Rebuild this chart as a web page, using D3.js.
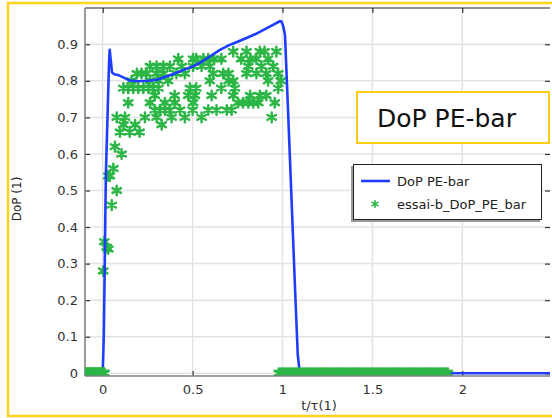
<!DOCTYPE html>
<html>
<head>
<meta charset="utf-8">
<script src="https://cdn.jsdelivr.net/npm/d3@7"></script>
<style>
  body { margin: 0; background: #fff; }
  svg { display: block; }
  text { font-family: "DejaVu Sans", sans-serif; }
</style>
</head>
<body>
<div id="vis"></div>
<script>
const W = 552, H = 418;
const plot = { left: 85, right: 550, top: 8, bottom: 376 };

// simulated curve : DoP PE-bar
const curveT = [-0.1, 0, 0.006, 0.011, 0.015, 0.018, 0.022, 0.03, 0.036, 0.039, 0.044, 0.052, 0.065, 0.09, 0.12, 0.15,
    0.2, 0.25, 0.3, 0.35, 0.4, 0.45, 0.5, 0.55, 0.6, 0.65, 0.7, 0.75, 0.8, 0.85, 0.9, 0.95, 0.985, 0.995,
    1.005, 1.014, 1.03, 1.05, 1.07, 1.085, 1.095, 1.11, 2.5];
const curveDop = [0, 0, 0.1, 0.28, 0.45, 0.55, 0.62, 0.76, 0.86, 0.885, 0.86, 0.823, 0.818, 0.815, 0.808, 0.801,
    0.799, 0.8, 0.803, 0.811, 0.82, 0.83, 0.839, 0.852, 0.868, 0.884, 0.897, 0.907, 0.917, 0.928, 0.941, 0.954, 0.963, 0.962,
    0.948, 0.925, 0.73, 0.48, 0.23, 0.05, 0.006, 0, 0];

// measurements : essai-b_DoP_PE_bar (non-zero part)
const essaiT = [
    0.003, 0.009, 0.022, 0.031, 0.05, 0.078, 0.031, 0.04, 0.059, 0.068, 0.105,
    0.096, 0.15, 0.205,
    0.115, 0.18, 0.328,
    0.078, 0.124, 0.235, 0.30, 0.383, 0.457, 0.55, 0.94,
    0.29, 0.318, 0.346, 0.374, 0.43, 0.50, 0.587, 0.633, 0.69, 0.717,
    0.142, 0.263, 0.346, 0.40, 0.503, 0.753, 0.78, 0.81, 0.837, 0.865, 0.957,
    0.29, 0.40, 0.476, 0.513, 0.606, 0.726, 0.82, 0.874, 0.91,
    0.115, 0.142, 0.17, 0.198, 0.226, 0.254, 0.28, 0.31, 0.485, 0.52, 0.66, 0.735, 0.976,
    0.16, 0.263, 0.31, 0.364, 0.596, 0.70, 0.726, 0.92, 0.99,
    0.19, 0.216, 0.244, 0.30, 0.337, 0.41, 0.457, 0.614, 0.67, 0.70, 0.80, 0.855, 0.91, 0.976,
    0.263, 0.30, 0.337, 0.374, 0.44, 0.503, 0.55, 0.596, 0.81, 0.883, 0.948,
    0.42, 0.503, 0.52, 0.56, 0.587, 0.62, 0.66, 0.77, 0.82, 0.855, 0.92,
    0.726, 0.80, 0.874, 0.90, 0.966
];
const essaiDop = [
    0.28, 0.36, 0.345, 0.34, 0.46, 0.50, 0.54, 0.54, 0.56, 0.62, 0.60,
    0.66, 0.66, 0.66,
    0.68, 0.68, 0.68,
    0.70, 0.70, 0.70, 0.70, 0.70, 0.70, 0.70, 0.70,
    0.72, 0.72, 0.72, 0.72, 0.72, 0.72, 0.72, 0.72, 0.72, 0.72,
    0.74, 0.74, 0.74, 0.74, 0.74, 0.74, 0.74, 0.74, 0.74, 0.74, 0.74,
    0.76, 0.76, 0.76, 0.76, 0.76, 0.76, 0.76, 0.76, 0.76,
    0.78, 0.78, 0.78, 0.78, 0.78, 0.78, 0.78, 0.78, 0.78, 0.78, 0.78, 0.78, 0.78,
    0.80, 0.80, 0.80, 0.80, 0.80, 0.80, 0.80, 0.80, 0.80,
    0.82, 0.82, 0.82, 0.82, 0.82, 0.82, 0.82, 0.82, 0.82, 0.82, 0.82, 0.82, 0.82, 0.82,
    0.84, 0.84, 0.84, 0.84, 0.84, 0.84, 0.84, 0.84, 0.84, 0.84, 0.84,
    0.86, 0.86, 0.86, 0.86, 0.86, 0.86, 0.86, 0.86, 0.86, 0.86, 0.86,
    0.88, 0.88, 0.88, 0.88, 0.88
];
// measurements at DoP = 0 (before loading and after unloading)
const essaiZeroT = [
    -0.095, -0.09, -0.085, -0.08, -0.075, -0.07, -0.065, -0.06, -0.055, -0.05, -0.045, -0.04,
    -0.035, -0.03, -0.025, -0.02, -0.015, -0.01, -0.005, 0, 0.005, 0.01,
    0.98, 0.99, 1.00, 1.01, 1.02, 1.03, 1.04, 1.05, 1.06, 1.07, 1.08, 1.09, 1.10, 1.11, 1.12, 1.13,
    1.14, 1.15, 1.16, 1.17, 1.18, 1.19, 1.20, 1.21, 1.22, 1.23, 1.24, 1.25, 1.26, 1.27, 1.28, 1.29,
    1.30, 1.31, 1.32, 1.33, 1.34, 1.35, 1.36, 1.37, 1.38, 1.39, 1.40, 1.41, 1.42, 1.43, 1.44, 1.45,
    1.46, 1.47, 1.48, 1.49, 1.50, 1.51, 1.52, 1.53, 1.54, 1.55, 1.56, 1.57, 1.58, 1.59, 1.60, 1.61,
    1.62, 1.63, 1.64, 1.65, 1.66, 1.67, 1.68, 1.69, 1.70, 1.71, 1.72, 1.73, 1.74, 1.75, 1.76, 1.77,
    1.78, 1.79, 1.80, 1.81, 1.82, 1.83, 1.84, 1.85, 1.86, 1.87, 1.88, 1.89, 1.90, 1.91, 1.92
];

const xTicks = [0, 0.5, 1, 1.5, 2];
const yTicks = [0, 0.1, 0.2, 0.3, 0.4, 0.5, 0.6, 0.7, 0.8, 0.9];
const seriesNames = ["DoP PE-bar", "essai-b_DoP_PE_bar"];
const titleText = "DoP PE-bar";

const blue = "#1f3dff";
const green = "#2bb645";

const svg = d3.select("#vis")
    .append("svg")
    .attr("width", W)
    .attr("height", H);

const xScale = d3.scaleLinear().domain([-0.0985, 2.488]).range([plot.left, plot.right]);
const yScale = d3.scaleLinear().domain([-0.0074, 0.9992]).range([plot.bottom, plot.top]);

// outer yellow frame
svg.append("rect")
    .attr("x", 8).attr("y", 3)
    .attr("width", W + 10).attr("height", 413)
    .attr("fill", "none")
    .attr("stroke", "#ffd21f")
    .attr("stroke-width", 2.5);

svg.append("defs").append("clipPath")
    .attr("id", "clip")
    .append("rect")
    .attr("x", plot.left).attr("y", plot.top)
    .attr("width", plot.right - plot.left).attr("height", plot.bottom - plot.top);

// grid
const grid = svg.append("g").attr("stroke", "#e3e3e3").attr("stroke-width", 1.5);
grid.selectAll(".gx").data(xTicks).enter().append("line")
    .attr("x1", d => xScale(d)).attr("x2", d => xScale(d))
    .attr("y1", plot.top).attr("y2", plot.bottom);
grid.selectAll(".gy").data(yTicks).enter().append("line")
    .attr("x1", plot.left).attr("x2", plot.right)
    .attr("y1", d => yScale(d)).attr("y2", d => yScale(d));

// axes with inward ticks
const fmtY = d => d === 0 ? "0" : d.toFixed(1);
const fmtX = d => String(d);

svg.append("g")
    .attr("transform", `translate(${plot.left},0)`)
    .call(d3.axisLeft(yScale).tickValues(yTicks).tickFormat(fmtY).tickSize(-5).tickPadding(7).tickSizeOuter(0));
svg.append("g")
    .attr("transform", `translate(0,${plot.bottom})`)
    .call(d3.axisBottom(xScale).tickValues(xTicks).tickFormat(fmtX).tickSize(-5).tickPadding(9).tickSizeOuter(0));
svg.append("g")
    .attr("transform", `translate(${plot.right},0)`)
    .call(d3.axisRight(yScale).tickValues(yTicks).tickFormat("").tickSize(-5).tickSizeOuter(0));
svg.append("g")
    .attr("transform", `translate(0,${plot.top})`)
    .call(d3.axisTop(xScale).tickValues(xTicks).tickFormat("").tickSize(-5).tickSizeOuter(0));

svg.selectAll(".tick line").attr("stroke", "#333").attr("stroke-width", 1.2);
svg.selectAll(".domain").remove();
svg.selectAll(".tick text").attr("font-size", 13).attr("fill", "#333");

// plot frame
svg.append("line").attr("x1", plot.left).attr("x2", plot.right).attr("y1", plot.top).attr("y2", plot.top)
    .attr("stroke", "#222").attr("stroke-width", 1);
svg.append("line").attr("x1", plot.left).attr("x2", plot.left).attr("y1", plot.top).attr("y2", plot.bottom)
    .attr("stroke", "#808080").attr("stroke-width", 1.6);

const inner = svg.append("g").attr("clip-path", "url(#clip)");

const asterisk = "M0,-4.8V4.8M-4.2,-2.4L4.2,2.4M-4.2,2.4L4.2,-2.4";

function drawMarkers(data, cls) {
    inner.selectAll("." + cls)
        .data(data)
        .enter()
        .append("path")
        .attr("class", cls)
        .attr("d", asterisk)
        .attr("transform", d => `translate(${xScale(d.t)},${yScale(d.v)})`)
        .attr("fill", "none")
        .attr("stroke", green)
        .attr("stroke-width", 2.5)
        .attr("stroke-linecap", "round");
}

// measurement markers
drawMarkers(essaiT.map((t, i) => ({ t: t, v: essaiDop[i] })), "pt");

// simulated curve
const curve = curveT.map((t, i) => ({ t: t, v: curveDop[i] }));
inner.append("path")
    .datum(curve)
    .attr("fill", "none")
    .attr("stroke", blue)
    .attr("stroke-width", 2.6)
    .attr("stroke-linejoin", "round")
    .attr("d", d3.line().x(d => xScale(d.t)).y(d => yScale(d.v)));

// zero-level measurements sit on top of the flat part of the curve
drawMarkers(essaiZeroT.map(t => ({ t: t, v: 0 })), "pt0");

svg.append("line").attr("x1", plot.left).attr("x2", plot.right).attr("y1", plot.bottom).attr("y2", plot.bottom)
    .attr("stroke", "#808080").attr("stroke-width", 1.6);

// axis labels
svg.append("text")
    .attr("x", 319).attr("y", 410)
    .attr("text-anchor", "middle")
    .attr("font-size", 13)
    .attr("fill", "#333")
    .text("t/τ(1)");
svg.append("text")
    .attr("transform", "rotate(-90)")
    .attr("x", -199).attr("y", 21)
    .attr("text-anchor", "middle")
    .attr("font-size", 12)
    .attr("fill", "#222")
    .text("DoP (1)");

// title box
svg.append("rect")
    .attr("x", 357).attr("y", 92)
    .attr("width", 192).attr("height", 51)
    .attr("fill", "#fff")
    .attr("stroke", "#ffcc14")
    .attr("stroke-width", 2);
svg.append("text")
    .attr("x", 377).attr("y", 127)
    .attr("font-family", "'Liberation Sans', Arial, sans-serif")
    .attr("font-size", 25)
    .attr("fill", "#111")
    .text(titleText);

// legend
svg.append("rect")
    .attr("x", 351).attr("y", 166)
    .attr("width", 189).attr("height", 56)
    .attr("fill", "#9a9a9a");
svg.append("rect")
    .attr("x", 353.5).attr("y", 164.5)
    .attr("width", 188).attr("height", 55)
    .attr("fill", "#fff")
    .attr("stroke", "#222")
    .attr("stroke-width", 1);

svg.append("line")
    .attr("x1", 361).attr("x2", 390)
    .attr("y1", 181).attr("y2", 181)
    .attr("stroke", blue).attr("stroke-width", 2.6);
svg.append("path")
    .attr("d", asterisk)
    .attr("transform", "translate(375,204) scale(0.75)")
    .attr("fill", "none")
    .attr("stroke", green)
    .attr("stroke-width", 2)
    .attr("stroke-linecap", "round");

svg.selectAll(".legtext")
    .data(seriesNames)
    .enter()
    .append("text")
    .attr("x", 397)
    .attr("y", (d, i) => 186 + i * 23)
    .attr("font-size", 13)
    .attr("fill", "#222")
    .text(d => d);
</script>
</body>
</html>
